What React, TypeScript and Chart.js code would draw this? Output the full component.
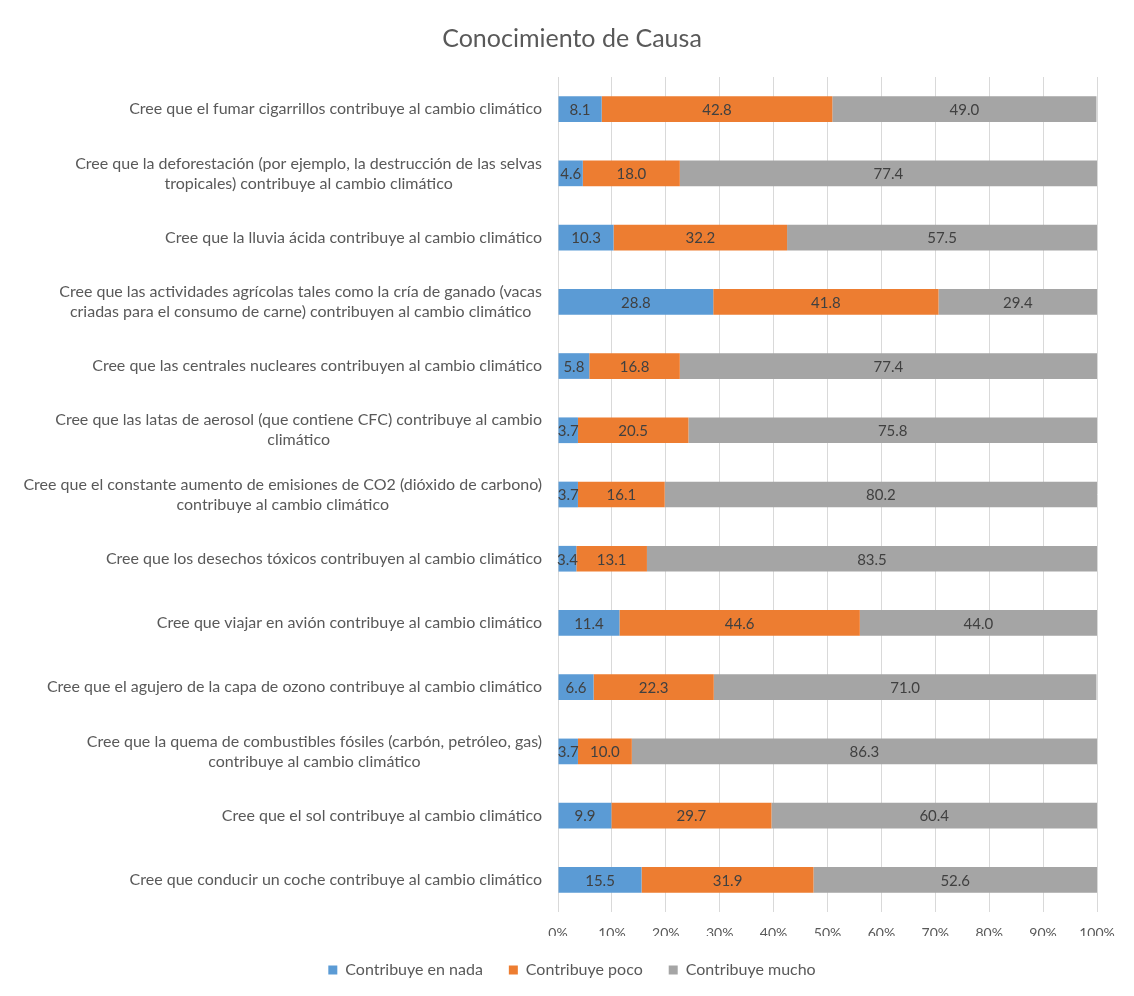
import { useEffect, useRef } from "react";
import { Chart, registerables } from "chart.js";

Chart.register(...registerables);

const FONT = "Lato";

const categories: string[][] = [
  ["Cree que el fumar cigarrillos contribuye al cambio climático"],
  ["Cree que la deforestación (por ejemplo, la destrucción de las selvas", "tropicales) contribuye al cambio climático"],
  ["Cree que la lluvia ácida contribuye al cambio climático"],
  ["Cree que las actividades agrícolas tales como la cría de ganado (vacas", "criadas para el consumo de carne) contribuyen al cambio climático"],
  ["Cree que las centrales nucleares contribuyen al cambio climático"],
  ["Cree que las latas de aerosol (que contiene CFC) contribuye al cambio", "climático"],
  ["Cree que el constante aumento de emisiones de CO2 (dióxido de carbono)", "contribuye al cambio climático"],
  ["Cree que los desechos tóxicos contribuyen al cambio climático"],
  ["Cree que viajar en avión contribuye al cambio climático"],
  ["Cree que el agujero de la capa de ozono contribuye al cambio climático"],
  ["Cree que la quema de combustibles fósiles (carbón, petróleo, gas)", "contribuye al cambio climático"],
  ["Cree que el sol contribuye al cambio climático"],
  ["Cree que conducir un coche contribuye al cambio climático"],
];

const seriesNames = ["Contribuye en nada", "Contribuye poco", "Contribuye mucho"];
const nada = [8.1, 4.6, 10.3, 28.8, 5.8, 3.7, 3.7, 3.4, 11.4, 6.6, 3.7, 9.9, 15.5];
const poco = [42.8, 18.0, 32.2, 41.8, 16.8, 20.5, 16.1, 13.1, 44.6, 22.3, 10.0, 29.7, 31.9];
const mucho = [49.0, 77.4, 57.5, 29.4, 77.4, 75.8, 80.2, 83.5, 44.0, 71.0, 86.3, 60.4, 52.6];
const seriesColors = ["#5B9BD5", "#ED7D31", "#A5A5A5"];
const titleText = "Conocimiento de Causa";

const yLabelPlugin = {
  id: "yLabelPlugin",
  afterDraw(chart: any) {
    const ctx = chart.ctx as CanvasRenderingContext2D;
    const yScale = chart.scales.y;
    ctx.save();
    ctx.font = `16px ${FONT}`;
    ctx.fillStyle = "#595959";
    ctx.textAlign = "center";
    ctx.textBaseline = "middle";
    const right = yScale.right - 16;
    const lh = 20;
    categories.forEach((lines, i) => {
      const y = yScale.getPixelForValue(i);
      const maxW = Math.max(...lines.map((l) => ctx.measureText(l).width));
      const cx = right - maxW / 2;
      const y0 = y - ((lines.length - 1) * lh) / 2;
      lines.forEach((l, j) => ctx.fillText(l, cx, y0 + j * lh));
    });
    ctx.restore();
  },
};

const valueLabelPlugin = {
  id: "valueLabelPlugin",
  afterDatasetsDraw(chart: any) {
    const ctx = chart.ctx as CanvasRenderingContext2D;
    ctx.save();
    ctx.font = `15px ${FONT}`;
    ctx.fillStyle = "#404040";
    ctx.textAlign = "center";
    ctx.textBaseline = "middle";
    chart.data.datasets.forEach((ds: any, di: number) => {
      const meta = chart.getDatasetMeta(di);
      meta.data.forEach((el: any, i: number) => {
        const v = ds.data[i] as number;
        ctx.fillText(v.toFixed(1), (el.x + el.base) / 2, el.y + 1);
      });
    });
    ctx.restore();
  },
};

export default function App() {
  const ref = useRef<HTMLCanvasElement>(null);
  useEffect(() => {
    const chart = new Chart(ref.current!, {
      type: "bar",
      data: {
        labels: categories,
        datasets: [nada, poco, mucho].map((d, i) => ({
          label: seriesNames[i],
          data: d,
          backgroundColor: seriesColors[i],
          borderWidth: 0,
          barPercentage: 0.4,
          categoryPercentage: 1,
        })),
      },
      options: {
        indexAxis: "y",
        responsive: false,
        animation: false,
        devicePixelRatio: 1,
        layout: { padding: { left: 47, right: 37, top: 24, bottom: 8 } },
        font: { family: FONT },
        scales: {
          x: {
            stacked: true,
            min: 0,
            max: 100,
            grid: {
              color: "#D9D9D9",
              drawTicks: false,
              tickLength: 0,
              tickColor: "rgba(0,0,0,0)",
            },
            border: { display: false },
            ticks: {
              stepSize: 10,
              padding: 13,
              color: "#595959",
              font: { family: FONT, size: 14 },
              callback: (v: any) => `${v}%`,
            },
            afterFit: (s: any) => {
              s.height = 24;
            },
          },
          y: {
            stacked: true,
            grid: { display: false },
            border: { display: false },
            ticks: { display: false },
            afterFit: (s: any) => {
              s.width = 511;
            },
          },
        },
        plugins: {
          title: {
            display: true,
            text: titleText,
            color: "#595959",
            font: { family: FONT, size: 25, weight: "normal" },
            padding: { top: 0, bottom: 23 },
          },
          legend: {
            position: "bottom",
            labels: {
              boxWidth: 9,
              boxHeight: 9,
              padding: 26,
              color: "#595959",
              font: { family: FONT, size: 16 },
            },
          },
          tooltip: { enabled: false },
        },
      },
      plugins: [yLabelPlugin, valueLabelPlugin],
    } as any);
    return () => chart.destroy();
  }, []);
  return (
    <div style={{ position: "fixed", left: 0, top: 0, width: 1134, height: 996, background: "#fff" }}>
      <canvas ref={ref} width={1134} height={996} style={{ display: "block", width: 1134, height: 996 }} />
    </div>
  );
}
